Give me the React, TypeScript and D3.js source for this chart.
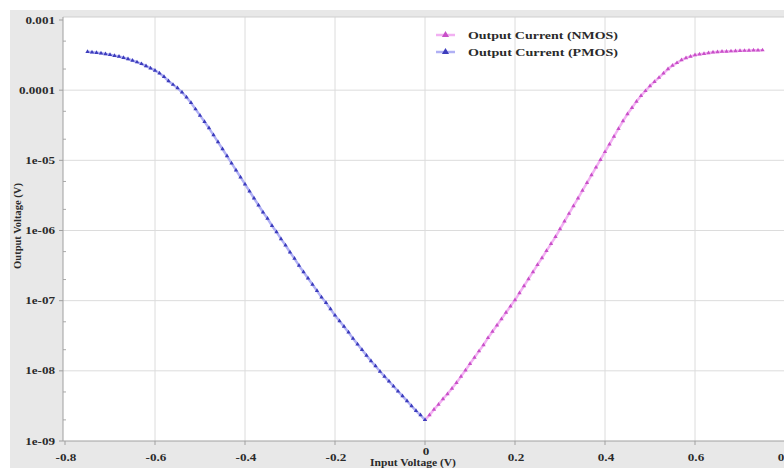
import React, { useEffect, useRef } from 'react';
import * as d3 from 'd3';

// gate sweep voltages (V)
const pmosVoltage = [
  -0.75, -0.74, -0.73, -0.72, -0.71, -0.7, -0.69, -0.68, -0.67, -0.66,
  -0.65, -0.64, -0.63, -0.62, -0.61, -0.6, -0.59, -0.58, -0.57, -0.56,
  -0.55, -0.54, -0.53, -0.52, -0.51, -0.5, -0.49, -0.48, -0.47, -0.46,
  -0.45, -0.44, -0.43, -0.42, -0.41, -0.4, -0.39, -0.38, -0.37, -0.36,
  -0.35, -0.34, -0.33, -0.32, -0.31, -0.3, -0.29, -0.28, -0.27, -0.26,
  -0.25, -0.24, -0.23, -0.22, -0.21, -0.2, -0.19, -0.18, -0.17, -0.16,
  -0.15, -0.14, -0.13, -0.12, -0.11, -0.1, -0.09, -0.08, -0.07, -0.06,
  -0.05, -0.04, -0.03, -0.02, -0.01, 0,
];
const pmosCurrent = [
  3.52e-4, 3.47e-4, 3.41e-4, 3.35e-4, 3.28e-4, 3.2e-4, 3.1e-4, 3.01e-4, 2.9e-4, 2.78e-4,
  2.65e-4, 2.51e-4, 2.37e-4, 2.21e-4, 2.06e-4, 1.91e-4, 1.74e-4, 1.55e-4, 1.35e-4, 1.2e-4,
  1.07e-4, 9.33e-5, 7.94e-5, 6.61e-5, 5.37e-5, 4.37e-5, 3.55e-5, 2.88e-5, 2.29e-5, 1.82e-5,
  1.45e-5, 1.15e-5, 9.12e-6, 7.24e-6, 5.75e-6, 4.57e-6, 3.63e-6, 2.88e-6, 2.29e-6, 1.82e-6,
  1.48e-6, 1.17e-6, 9.55e-7, 7.59e-7, 6.17e-7, 4.9e-7, 3.98e-7, 3.16e-7, 2.57e-7, 2.09e-7,
  1.7e-7, 1.38e-7, 1.12e-7, 9.33e-8, 7.59e-8, 6.17e-8, 5.13e-8, 4.27e-8, 3.55e-8, 2.88e-8,
  2.4e-8, 2.0e-8, 1.66e-8, 1.38e-8, 1.17e-8, 9.77e-9, 8.32e-9, 7.08e-9, 6.03e-9, 5.13e-9,
  4.37e-9, 3.72e-9, 3.16e-9, 2.69e-9, 2.34e-9, 2.0e-9,
];

const nmosVoltage = [
  0, 0.01, 0.02, 0.03, 0.04, 0.05, 0.06, 0.07, 0.08, 0.09,
  0.1, 0.11, 0.12, 0.13, 0.14, 0.15, 0.16, 0.17, 0.18, 0.19,
  0.2, 0.21, 0.22, 0.23, 0.24, 0.25, 0.26, 0.27, 0.28, 0.29,
  0.3, 0.31, 0.32, 0.33, 0.34, 0.35, 0.36, 0.37, 0.38, 0.39,
  0.4, 0.41, 0.42, 0.43, 0.44, 0.45, 0.46, 0.47, 0.48, 0.49,
  0.5, 0.51, 0.52, 0.53, 0.54, 0.55, 0.56, 0.57, 0.58, 0.59,
  0.6, 0.61, 0.62, 0.63, 0.64, 0.65, 0.66, 0.67, 0.68, 0.69,
  0.7, 0.71, 0.72, 0.73, 0.74, 0.75,
];
const nmosCurrent = [
  2.0e-9, 2.34e-9, 2.82e-9, 3.31e-9, 3.98e-9, 4.68e-9, 5.62e-9, 6.76e-9, 8.32e-9, 1.02e-8,
  1.26e-8, 1.55e-8, 1.91e-8, 2.34e-8, 2.95e-8, 3.63e-8, 4.47e-8, 5.5e-8, 6.76e-8, 8.32e-8,
  1.02e-7, 1.29e-7, 1.62e-7, 2.04e-7, 2.57e-7, 3.24e-7, 4.07e-7, 5.13e-7, 6.46e-7, 8.13e-7,
  1.05e-6, 1.35e-6, 1.74e-6, 2.24e-6, 2.88e-6, 3.72e-6, 4.79e-6, 6.17e-6, 7.94e-6, 1.02e-5,
  1.32e-5, 1.7e-5, 2.19e-5, 2.82e-5, 3.63e-5, 4.57e-5, 5.62e-5, 6.92e-5, 8.32e-5, 9.77e-5,
  1.15e-4, 1.32e-4, 1.51e-4, 1.74e-4, 2.0e-4, 2.24e-4, 2.45e-4, 2.69e-4, 2.88e-4, 3.02e-4,
  3.16e-4, 3.24e-4, 3.31e-4, 3.39e-4, 3.47e-4, 3.51e-4, 3.55e-4, 3.57e-4, 3.6e-4, 3.62e-4,
  3.65e-4, 3.66e-4, 3.68e-4, 3.7e-4, 3.71e-4, 3.72e-4,
];

const xTicks = [-0.8, -0.6, -0.4, -0.2, 0, 0.2, 0.4, 0.6, 0.8];
const xTickLabels = ['-0.8', '-0.6', '-0.4', '-0.2', '0', '0.2', '0.4', '0.6', '0.8'];
const yTicks = [1e-3, 1e-4, 1e-5, 1e-6, 1e-7, 1e-8, 1e-9];
const yTickLabels = ['0.001', '0.0001', '1e-05', '1e-06', '1e-07', '1e-08', '1e-09'];
const seriesNames = ['Output Current (NMOS)', 'Output Current (PMOS)'];

const W = 784;
const H = 468;
const FONT = '"Liberation Serif", "DejaVu Serif", serif';
const TEXT = '#2a2a2a';

function App() {
  const ref = useRef<SVGSVGElement>(null);

  useEffect(() => {
    const svg = d3.select(ref.current);
    svg.selectAll('*').remove();

    const left = 63, top = 17, bottom = 441;

    const x = d3.scaleLinear().domain([-0.8, 0.8]).range([65, 785]);
    const y = d3.scaleLog().domain([1e-9, 1e-3]).range([bottom, 20]);

    svg.append('rect').attr('width', W).attr('height', H).attr('fill', '#ffffff');
    svg.append('rect').attr('x', 10).attr('y', 10).attr('width', W - 10).attr('height', H - 10).attr('fill', '#e8e8e8');
    svg.append('rect').attr('x', left).attr('y', top).attr('width', W - left + 5).attr('height', bottom - top).attr('fill', '#ffffff');

    // grid
    svg.append('g').selectAll('line').data(xTicks.slice(1)).enter().append('line')
      .attr('x1', d => x(d)).attr('x2', d => x(d))
      .attr('y1', top).attr('y2', bottom)
      .attr('stroke', '#dcdcdc').attr('stroke-width', 1);
    svg.append('g').selectAll('line').data(yTicks.slice(1, -1)).enter().append('line')
      .attr('x1', left).attr('x2', W)
      .attr('y1', d => y(d)).attr('y2', d => y(d))
      .attr('stroke', '#dcdcdc').attr('stroke-width', 1);

    // minor ticks on y axis
    const minor: number[] = [];
    yTicks.slice(1).forEach(t => [2, 5].forEach(m => minor.push(t * m)));
    svg.append('g').selectAll('line').data(minor).enter().append('line')
      .attr('x1', left).attr('x2', left + 3)
      .attr('y1', d => y(d)).attr('y2', d => y(d))
      .attr('stroke', '#aaaaaa');

    // frame
    svg.append('line').attr('x1', left).attr('x2', W).attr('y1', top).attr('y2', top).attr('stroke', '#cfcfcf');
    svg.append('line').attr('x1', left).attr('x2', W).attr('y1', bottom).attr('y2', bottom).attr('stroke', '#a0a0a0');
    svg.append('line').attr('x1', left).attr('x2', left).attr('y1', top).attr('y2', bottom).attr('stroke', '#a0a0a0');

    // major tick marks
    svg.append('g').selectAll('line').data(yTicks).enter().append('line')
      .attr('x1', left - 4).attr('x2', left)
      .attr('y1', d => y(d)).attr('y2', d => y(d))
      .attr('stroke', '#a0a0a0');
    svg.append('g').selectAll('line').data(xTicks).enter().append('line')
      .attr('x1', d => x(d)).attr('x2', d => x(d))
      .attr('y1', bottom).attr('y2', bottom + 4)
      .attr('stroke', '#a0a0a0');

    // tick labels (the source render is a bit wide, so stretch horizontally)
    svg.append('g').selectAll('text').data(yTicks).enter().append('text')
      .attr('transform', d => `translate(55,${y(d) + 3.5}) scale(1.25,1)`)
      .attr('text-anchor', 'end')
      .attr('font-family', FONT).attr('font-weight', 'bold').attr('font-size', 10.5)
      .attr('fill', TEXT)
      .text((d, i) => yTickLabels[i]);
    svg.append('g').selectAll('text').data(xTicks).enter().append('text')
      .attr('transform', d => `translate(${x(d) + 1},${d === 0 ? 455 : 461}) scale(1.25,1)`)
      .attr('text-anchor', 'middle')
      .attr('font-family', FONT).attr('font-weight', 'bold').attr('font-size', 10.5)
      .attr('fill', TEXT)
      .text((d, i) => xTickLabels[i]);

    // axis titles
    svg.append('text')
      .attr('transform', 'translate(413,466) scale(1.1,1)')
      .attr('text-anchor', 'middle')
      .attr('font-family', FONT).attr('font-weight', 'bold').attr('font-size', 10.5)
      .attr('fill', TEXT)
      .text('Input Voltage (V)');
    svg.append('text')
      .attr('transform', 'translate(21,226) rotate(-90)')
      .attr('text-anchor', 'middle')
      .attr('font-family', FONT).attr('font-weight', 'bold').attr('font-size', 10.5)
      .attr('fill', TEXT)
      .text('Output Voltage (V)');

    const tri = d3.symbol().type(d3.symbolTriangle).size(8);
    const line = d3.line<[number, number]>().x(d => x(d[0])).y(d => y(d[1]));

    const series = [
      { v: nmosVoltage, c: nmosCurrent, line: '#f2b0f2', mark: '#c850c8' },
      { v: pmosVoltage, c: pmosCurrent, line: '#b0b0f4', mark: '#3c3cbc' },
    ];

    series.forEach(s => {
      const pts: [number, number][] = s.v.map((v, i) => [v, s.c[i]]);
      svg.append('path').datum(pts)
        .attr('d', line)
        .attr('fill', 'none')
        .attr('stroke', s.line).attr('stroke-width', 2.5);
      svg.append('g').selectAll('path').data(pts).enter().append('path')
        .attr('d', tri)
        .attr('transform', d => `translate(${x(d[0])},${y(d[1])})`)
        .attr('fill', s.mark);
    });

    // legend
    const leg = svg.append('g');
    series.forEach((s, i) => {
      const ly = 35 + i * 17;
      leg.append('line').attr('x1', 436).attr('x2', 455).attr('y1', ly).attr('y2', ly)
        .attr('stroke', s.line).attr('stroke-width', 2.5);
      leg.append('path').attr('d', d3.symbol().type(d3.symbolTriangle).size(22)())
        .attr('transform', `translate(445.5,${ly})`).attr('fill', s.mark);
      leg.append('text').attr('x', 468).attr('y', ly + 4)
        .attr('font-family', FONT).attr('font-weight', 'bold').attr('font-size', 11)
        .attr('textLength', 150).attr('lengthAdjust', 'spacingAndGlyphs')
        .attr('fill', TEXT)
        .text(seriesNames[i]);
    });
  }, []);

  return (
    <svg
      ref={ref}
      width={W}
      height={H}
      style={{ position: 'absolute', left: 0, top: 0, display: 'block' }}
    />
  );
}

export default App;
